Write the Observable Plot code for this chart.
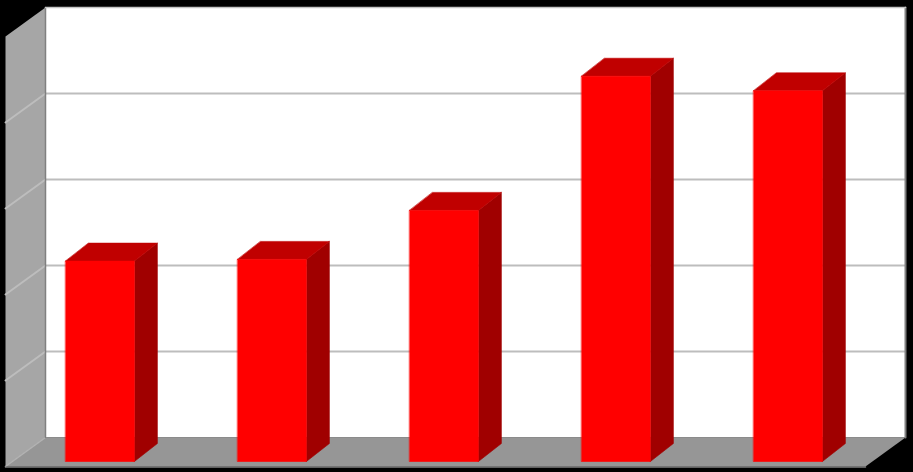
<!DOCTYPE html>
<html>
<head>
<meta charset="utf-8">
<script src="https://cdn.jsdelivr.net/npm/d3@7"></script>
<script src="https://cdn.jsdelivr.net/npm/@observablehq/plot@0.6"></script>
<style>
html,body{margin:0;padding:0;background:#000;overflow:hidden}
svg{display:block}
</style>
</head>
<body>
<div id="chart"></div>
<script>
const slots = [0, 1, 2, 3, 4];
const values = [2.33, 2.35, 2.92, 4.48, 4.31];
const gridValues = [1, 2, 3, 4];
const maxValue = 5;

const W = 913, H = 472;
const x0 = 45, x1 = 905, y0 = 437, y1 = 7;
const ux = (x1 - x0) / slots.length;
const uy = (y0 - y1) / maxValue;

// Oblique projection offsets, expressed in data units
const wallDX = -40 / ux, wallDY = -29 / uy;
const frontDX = -31.5 / ux, frontDY = -24 / uy;
const backDX = -8.5 / ux, backDY = -6 / uy;
const barWidth = 0.4;

function poly(points, id) { return points.map(([x, y]) => ({x, y, id})); }

const backWall = [[0, 0], [5, 0], [5, 5], [0, 5]];
const leftWall = [[0, 0], [0, 5], [wallDX, 5 + wallDY], [wallDX, wallDY]];
const floorFace = [[0, 0], [5, 0], [5 + wallDX, wallDY], [wallDX, wallDY]];

const frontFaces = [], topFaces = [], sideFaces = [];
slots.forEach((s, i) => {
  const v = values[i];
  const l = s + 0.5 - barWidth / 2, r = s + 0.5 + barWidth / 2;
  frontFaces.push(...poly([[l + frontDX, frontDY], [r + frontDX, frontDY], [r + frontDX, v + frontDY], [l + frontDX, v + frontDY]], i));
  topFaces.push(...poly([[l + frontDX, v + frontDY], [r + frontDX, v + frontDY], [r + backDX, v + backDY], [l + backDX, v + backDY]], i));
  sideFaces.push(...poly([[r + frontDX, frontDY], [r + backDX, backDY], [r + backDX, v + backDY], [r + frontDX, v + frontDY]], i));
});

const face = (pts, fill, stroke = "none") => Plot.line(pts, {x: "x", y: "y", z: "id", fill, stroke, strokeWidth: 0.6, curve: "linear-closed"});
const wallGrid = gridValues.flatMap(g => poly([[0, g], [wallDX, g + wallDY]], g));

const chart = Plot.plot({
  width: W, height: H,
  marginLeft: 0, marginRight: 0, marginTop: 0, marginBottom: 0,
  style: {background: "#000"},
  x: {type: "linear", domain: [-x0 / ux, (W - x0) / ux], range: [0, W], axis: null},
  y: {type: "linear", domain: [(y0 - H) / uy, y0 / uy], range: [H, 0], axis: null},
  marks: [
    face(poly(backWall, 0), "#ffffff"),
    face(poly(leftWall, 0), "#a6a6a6"),
    face(poly(floorFace, 0), "#969696"),
    Plot.ruleY(gridValues, {x1: 0, x2: 5, stroke: "#bdbdbd", strokeWidth: 2}),
    Plot.line(wallGrid, {x: "x", y: "y", z: "id", stroke: "#bdbdbd", strokeWidth: 2}),
    Plot.line(poly([[0, 0], [wallDX, wallDY]], 0), {x: "x", y: "y", stroke: "#b4b4b4", strokeWidth: 1.5}),
    Plot.line(poly([[0, 0], [0, 5]], 0), {x: "x", y: "y", stroke: "#808080", strokeWidth: 1.5}),
    Plot.line(poly([[5, 0], [5, 5]], 0), {x: "x", y: "y", stroke: "#808080", strokeWidth: 2, dx: 0}),
    Plot.line(poly([[0, 5], [5, 5]], 0), {x: "x", y: "y", stroke: "#c4c4c4", strokeWidth: 1.5}),
    Plot.line(poly([[wallDX, wallDY], [5 + wallDX, wallDY]], 0), {x: "x", y: "y", stroke: "#808080", strokeWidth: 1.5, dy: 0.5}),
    face(sideFaces, "#a00000", "#a00000"),
    face(topFaces, "#c00000", "#c00000"),
    face(frontFaces, "#ff0000", "#ff0000")
  ]
});
document.getElementById("chart").appendChild(chart);
</script>
</body>
</html>
